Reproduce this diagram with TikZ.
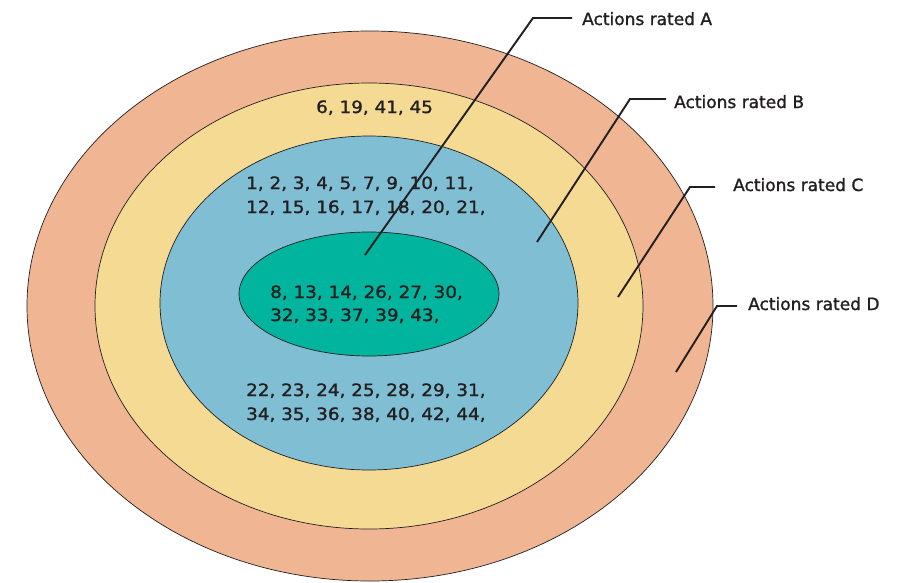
\documentclass[tikz,border=0pt]{standalone}
\usepackage{fontspec}
\setmainfont[FakeBold=1.3]{DejaVu Sans}
\newfontfamily\numfont[FakeStretch=1.08,FakeBold=1.3]{DejaVu Sans}
\definecolor{ringD}{HTML}{F0B593}
\definecolor{ringC}{HTML}{F5DA94}
\definecolor{ringB}{HTML}{80BED4}
\definecolor{ringA}{HTML}{00B49E}
\definecolor{ink}{HTML}{231F20}
\begin{document}
\begin{tikzpicture}[x=1pt,y=-1pt,
  ring/.style={draw=ink,line width=0.7pt},
  nums/.style={anchor=base west,inner sep=0pt,text=ink,font=\numfont\fontsize{17}{20}\selectfont},
  lab/.style={anchor=base west,inner sep=0pt,text=ink,font=\fontsize{17}{20}\selectfont},
  leader/.style={draw=ink,line width=1.9pt}]
\useasboundingbox (0,0) rectangle (906,582);
\fill[white] (0,0) rectangle (906,582);
% rings
\path[ring,fill=ringD] (370,306) ellipse [x radius=343pt, y radius=275pt];
\path[ring,fill=ringC] (369,306) ellipse [x radius=274pt, y radius=223pt];
\path[ring,fill=ringB] (369,303) ellipse [x radius=209pt, y radius=167pt];
\path[ring,fill=ringA] (369,294) ellipse [x radius=130pt, y radius=62pt];
% numbers
\node[nums] (c1) at (316,113) {6, 19, 41, 45};
\node[nums] (b1) at (246,189) {1, 2, 3, 4, 5, 7, 9, 10, 11,};
\node[nums] (b2) at (246,213) {12, 15, 16, 17, 18, 20, 21,};
\node[nums] (a1) at (270,298) {8, 13, 14, 26, 27, 30,};
\node[nums] (a2) at (270,321) {32, 33, 37, 39, 43,};
\node[nums] (b3) at (246,396) {22, 23, 24, 25, 28, 29, 31,};
\node[nums] (b4) at (246,420) {34, 35, 36, 38, 40, 42, 44,};
% labels
\node[lab] (LA) at (582,25) {Actions rated A};
\node[lab] (LB) at (674,108) {Actions rated B};
\node[lab] (LC) at (733,191) {Actions rated C};
\node[lab] (LD) at (748,310) {Actions rated D};
% leader points
\coordinate (pA) at (365,255); \coordinate (kA) at (533,18); \coordinate (eA) at (572,18);
\coordinate (pB) at (537,242); \coordinate (kB) at (630,99); \coordinate (eB) at (666,99);
\coordinate (pC) at (618,297); \coordinate (kC) at (690,187); \coordinate (eC) at (715,187);
\coordinate (pD) at (676,372); \coordinate (kD) at (717,306); \coordinate (eD) at (737,306);
\draw[leader] (pA) -- (kA) -- (eA);
\draw[leader] (pB) -- (kB) -- (eB);
\draw[leader] (pC) -- (kC) -- (eC);
\draw[leader] (pD) -- (kD) -- (eD);
\end{tikzpicture}
\end{document}
